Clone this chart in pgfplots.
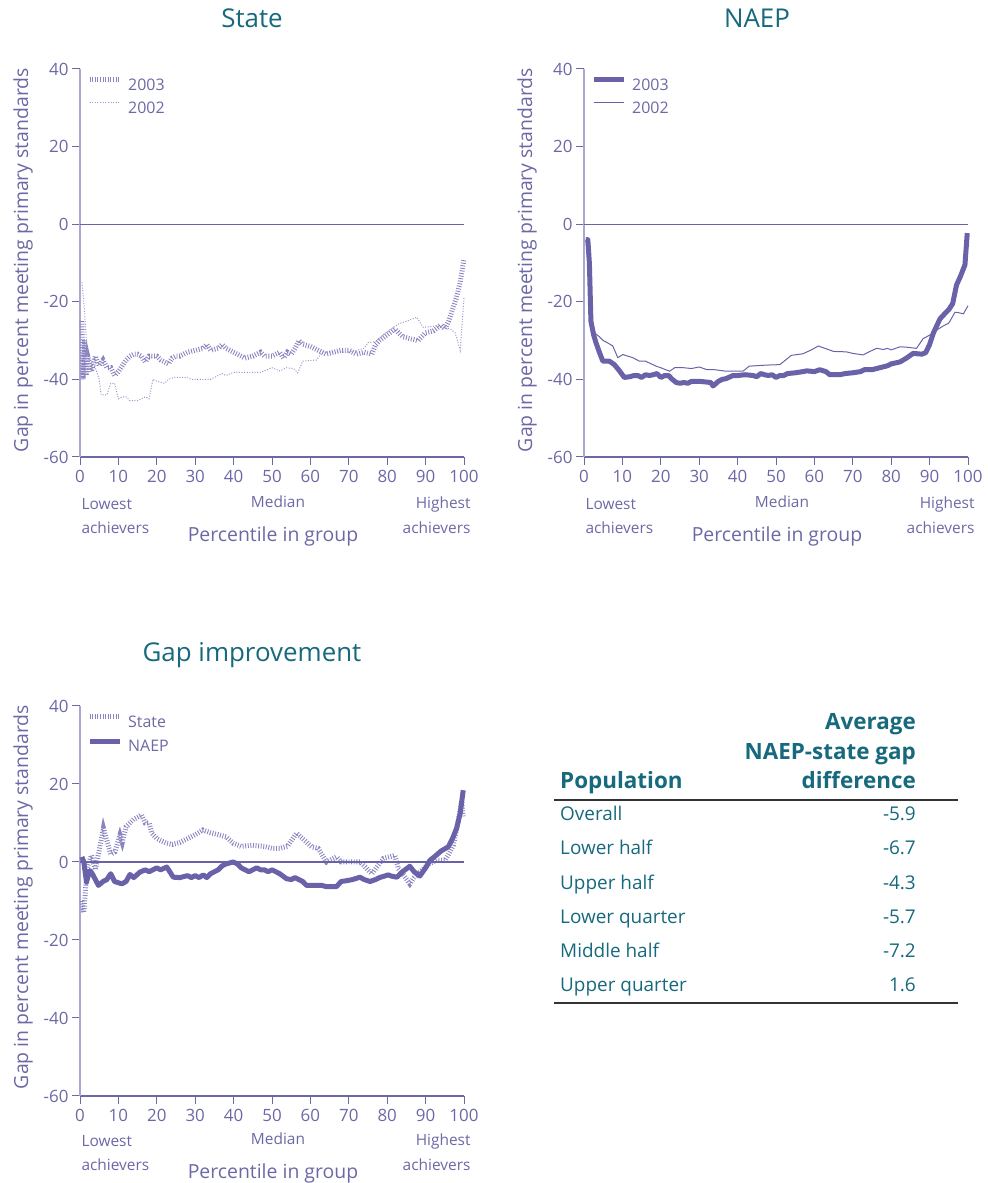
\documentclass[border=0pt]{standalone}
\usepackage{fontspec}
\setmainfont{Open Sans}
\usepackage{pgfplots}
\pgfplotsset{compat=1.18}
\definecolor{tickc}{HTML}{6C68A6}
\definecolor{axc}{HTML}{ABA7D3}
\definecolor{lnc}{HTML}{6A62A8}
\definecolor{hatchc}{HTML}{8A84C0}
\definecolor{dotc}{HTML}{9A95CB}
\definecolor{tealc}{HTML}{17697D}
\pgfplotsset{
  myax/.style={
    scale only axis, width=384bp, height=388bp,
    xmin=0, xmax=100, ymin=-60, ymax=40,
    axis x line*=bottom, axis y line*=left,
    x axis line style={tickc, line width=1.3bp, -},
    y axis line style={axc, line width=2bp, -},
    xtick={0,10,...,100}, ytick={-60,-40,...,40},
    tick align=outside, major tick length=8bp,
    tick style={tickc, line width=1bp},
    ticklabel style={font=\fontsize{17}{19}\selectfont, text=tickc},
    xticklabel style={yshift=-1.5bp},
    /pgf/number format/assume math mode=true,
    clip=false,
    legend style={draw=none, fill=none, at={(axis description cs:0,1)}, anchor=north west,
      inner sep=0pt, nodes={inner sep=0pt},
      xshift=7bp, yshift=-8bp, font=\fontsize{16}{18}\selectfont, text=tickc,
      row sep=10bp, /tikz/every odd column/.append style={column sep=6bp}},
    legend cell align=left,
    legend image code/.code={\draw[##1] (0bp,5.5bp) -- (30bp,5.5bp);},
  },
  hatchline/.style={hatchc, line width=5bp, dash pattern=on 0.9bp off 1.7bp},
  dotline/.style={dotc, line width=1bp, dash pattern=on 1bp off 1.6bp},
  thickline/.style={lnc, line width=5bp, line join=round},
  thinline/.style={lnc, line width=1bp},
}
\begin{document}
\begin{tikzpicture}[x=1bp,y=1bp]
\useasboundingbox (0,0) rectangle (988,1183);
% ---------- titles ----------
\node[text=tealc, font=\fontsize{26}{28}\selectfont] at (252,1165) {State};
\node[text=tealc, font=\fontsize{26}{28}\selectfont] at (757,1165) {NAEP};
\node[text=tealc, font=\fontsize{26}{28}\selectfont] at (252,528) {Gap improvement};

% ---------- State ----------
\begin{axis}[myax, at={(80bp,726bp)}, anchor=south west]
\addplot[hatchline] coordinates {(0.5,-25) (0.8,-40) (1.2,-30) (1.6,-39) (2,-34) (3,-38) (4,-34) (5,-36.5) (6,-35) (7,-37) (8,-37) (9,-39) (10,-38) (11,-36.5) (12,-35) (13,-34) (14,-33.5) (15,-33.5) (16,-34) (17,-35.5) (18,-34) (19,-34) (20,-34) (21,-35) (22,-35.5) (23,-36) (24,-34.5) (25,-34) (26,-34) (28,-33) (30,-32.5) (32,-32) (33,-31) (34,-32.5) (36,-32) (37,-31) (38,-32) (40,-33) (42,-34) (43,-34.5) (45,-34) (47,-33) (48,-34) (50,-34) (52,-33) (53,-34.5) (54,-33) (55,-33.5) (56,-32) (57,-30) (58,-31) (60,-31.5) (62,-32.5) (64,-33.5) (66,-33) (68,-32.5) (70,-32.5) (72,-33.5) (74,-33) (76,-33.5) (77,-31) (78,-30) (80,-28.5) (82,-27) (84,-29) (86,-29.5) (88,-30) (90,-28) (92,-27.5) (94,-26) (95,-27) (96,-25) (97,-22) (98,-19) (99,-15) (100,-9)};
\addlegendentry{2003}
\addplot[dotline] coordinates {(0.5,-15) (1,-20) (2,-35) (3,-35) (4,-37) (5,-40) (5.5,-44) (7,-44) (8,-41) (9,-41) (10,-45) (11,-44.5) (12,-44.5) (13,-45.5) (15,-45.5) (16,-45) (17,-44.5) (18,-45) (19,-40) (20,-40.5) (22,-41) (23,-40) (24.5,-39.5) (28,-39.5) (29,-40) (34,-40) (36,-39) (37,-38.5) (38,-39) (40,-38.2) (47,-38.2) (50,-37) (52,-37.8) (53.8,-37) (55.6,-37.2) (56.7,-38.3) (58,-35.3) (61.6,-35) (63,-33) (66,-33) (70,-33) (74,-32) (75,-30.5) (77,-30.3) (79,-28.5) (81,-27) (83,-25.7) (85,-25) (87.7,-24) (89.4,-26.6) (92.9,-26.2) (96.4,-27) (97.7,-28) (99,-32.5) (100,-19)};
\addlegendentry{2002}
\draw[lnc, line width=1.2bp] (axis cs:0,0) -- (axis cs:100,0);
\end{axis}

% ---------- NAEP ----------
\begin{axis}[myax, at={(584bp,726bp)}, anchor=south west]
\addplot[thickline] coordinates {(0.5,-4) (1,-4) (1.4,-10) (1.8,-25) (2.5,-28.5) (3.1,-30.5) (4,-33) (4.9,-35.3) (6.6,-35.3) (7.9,-36.2) (9,-37.5) (10.5,-39.5) (12,-39.3) (13,-39) (14,-39) (15,-39.5) (16,-38.8) (17,-39) (18,-38.8) (19,-38.5) (20,-39.5) (21,-39) (22,-39) (23,-40) (24,-40.8) (25,-41) (26,-40.8) (27,-41) (28,-40.5) (30,-40.5) (32,-40.7) (33,-40.8) (33.6,-41.7) (35,-40.5) (36,-40) (37,-39.8) (38.8,-39) (40,-39) (42,-38.8) (44,-39) (45,-39.3) (46,-38.5) (47,-38.8) (48,-39) (49,-38.8) (50,-39.5) (51,-39) (52,-39) (53,-38.5) (55,-38.3) (57,-38) (58,-37.8) (60,-38) (61.4,-37.5) (63,-38) (64,-38.8) (66.6,-38.8) (68,-38.5) (70,-38.3) (72,-38) (73,-37.5) (75,-37.5) (77,-37) (79,-36.5) (80,-36) (82.3,-35.5) (84,-34.5) (85.7,-33.3) (88,-33.5) (89,-33.1) (90,-31) (91,-28) (92.7,-24.4) (94,-23) (95,-22) (96,-20.5) (97,-15.7) (98,-13.5) (99.2,-10.5) (99.8,-2.3)};
\addlegendentry{2003}
\addplot[thinline] coordinates {(0.5,-4) (1.2,-12) (2,-27) (3.1,-28.3) (4,-29) (5,-30) (6,-30.5) (7.5,-31.4) (8.8,-34.4) (10.1,-33.6) (12.7,-34.4) (14.4,-35.3) (16,-35.3) (18.8,-36.6) (20,-37) (22.3,-37.9) (23.6,-37) (26,-37) (28,-37.2) (30,-36.8) (32,-37.5) (34,-37.5) (37,-37.9) (41.4,-37.9) (43,-36.6) (46,-36.4) (48,-36.3) (51,-36.2) (52.5,-35) (54,-33.8) (57,-33.4) (59,-32.5) (61,-31.4) (63.6,-32.3) (65,-32.8) (68.3,-32.9) (70,-33.3) (72.7,-33.7) (74,-33) (76.2,-32) (78,-32.3) (79,-32) (80,-32.4) (82.3,-31.6) (84,-31.7) (86.6,-32) (88.3,-29.5) (90,-28.6) (91.5,-27.5) (93.6,-26.2) (95,-25.5) (96.6,-22.7) (97.5,-22.8) (98.8,-23.1) (100,-21)};
\addlegendentry{2002}
\draw[lnc, line width=1.2bp] (axis cs:0,0) -- (axis cs:100,0);
\end{axis}

% ---------- Gap improvement ----------
\begin{axis}[myax, height=390bp, at={(80bp,87bp)}, anchor=south west]
\addplot[hatchline] coordinates {(0.5,-10) (1,-13) (1.5,-6) (2,-1) (3,1.7) (4,-2) (5,3) (6.1,8.7) (7,5.5) (8,2) (9.1,2.6) (10.4,6.9) (11,5) (12,9) (13,10) (14,11) (15,11.5) (16,12.1) (17,10) (18,10) (18.7,7.4) (20,6) (21,5.5) (22.6,4.8) (24,4.5) (26,5) (28,6) (30,7) (32,8.2) (34,7.5) (36,7) (38,6.5) (39.9,4.8) (42,4) (45,4.3) (48,4) (50,3.5) (52,3.5) (54,4) (56.4,7.4) (58,6) (60.3,3.9) (62,3.5) (64.2,0) (66.8,1.3) (68,0) (70,0) (72.9,0) (74,-1) (76,-3) (79,0.9) (82,1.7) (82.9,-1.7) (84,-3) (85.9,-5.6) (87,-4) (88.5,-2.6) (91,-0.4) (93,0.5) (95,0.4) (96,2) (97.2,4.3) (98,8) (99.4,15.6) (99.8,11.7)};
\addlegendentry{State}
\addplot[thickline] coordinates {(0.5,1.3) (1,0) (1.7,-5.2) (2,-4) (2.6,-2.2) (3.2,-3) (4.8,-6) (6,-5) (7,-4.5) (8,-3) (9,-5) (10.9,-5.6) (12,-5) (13,-3.2) (14,-4) (15.6,-2.6) (17,-2) (18,-2.5) (20,-1.5) (21,-2) (22.6,-1.3) (24.3,-3.9) (26,-4) (28,-3.5) (29,-4) (30,-3.5) (31,-4) (32.1,-3.3) (33,-4) (34,-3) (35,-2.5) (36,-2) (37,-1) (38,-0.5) (39.9,0) (41,-0.5) (42,-1.5) (43,-2) (44,-2.5) (45,-2) (46,-1.5) (47,-2) (48,-2) (49,-2.5) (50,-2) (51,-2.5) (52,-3) (53.8,-4.3) (55,-4.5) (56,-4) (57,-4.5) (58,-5) (59,-6) (60.8,-6) (62,-6) (63,-6) (64,-6.3) (66.8,-6.3) (68,-5) (69.4,-4.8) (71,-4.5) (72.9,-3.9) (74,-4.5) (75.5,-5) (77,-4.5) (78,-4) (80.3,-3.3) (81,-3.6) (82.5,-3.9) (84,-2.5) (85.9,-1.1) (87,-2.5) (88.5,-3.6) (90,-1.5) (91.1,0.4) (92.5,1.5) (94,2.8) (95.9,3.9) (97,6) (98.1,8.7) (99,12.5) (99.8,18.4)};
\addlegendentry{NAEP}
\draw[lnc, line width=1.2bp] (axis cs:0,0) -- (axis cs:100,0);
\end{axis}

% ---------- axis annotations ----------
\foreach \dx/\dy in {0/0, 504/0, 0/-637} {
  \begin{scope}[shift={(\dx,\dy)}]
  \node[text=tickc, font=\fontsize{15.5}{17}\selectfont, anchor=west] at (78,679) {Lowest};
  \node[text=tickc, font=\fontsize{15.5}{17}\selectfont, anchor=west] at (78,655) {achievers};
  \node[text=tickc, font=\fontsize{15.5}{17}\selectfont] at (278,681) {Median};
  \node[text=tickc, font=\fontsize{15.5}{17}\selectfont, anchor=east] at (474,679) {Highest};
  \node[text=tickc, font=\fontsize{15.5}{17}\selectfont, anchor=east] at (474,655) {achievers};
  \node[text=tickc, font=\fontsize{19.5}{21}\selectfont] at (273,647) {Percentile in group};
  \end{scope}
}
\node[text=tickc, font=\fontsize{19.5}{21}\selectfont, rotate=90] at (23,923) {Gap in percent meeting primary standards};
\node[text=tickc, font=\fontsize{19.5}{21}\selectfont, rotate=90] at (527,923) {Gap in percent meeting primary standards};
\node[text=tickc, font=\fontsize{19.5}{21}\selectfont, rotate=90] at (23,286) {Gap in percent meeting primary standards};

% ---------- table ----------
\begin{scope}[every node/.style={text=tealc, inner sep=0pt}]
\node[font=\bfseries\fontsize{22.5}{24}\selectfont, anchor=base east] at (916,453) {Average};
\node[font=\bfseries\fontsize{22.5}{24}\selectfont, anchor=base east] at (916,423) {NAEP-state gap};
\node[font=\bfseries\fontsize{22.5}{24}\selectfont, anchor=base east] at (916,394) {difference};
\node[font=\bfseries\fontsize{22.5}{24}\selectfont, anchor=base west] at (560,394) {Population};
\draw[black!80, line width=1.4bp] (554,383) -- (958,383);
\foreach \y/\lab/\val in {362/Overall/-5.9, 328/Lower half/-6.7, 293/Upper half/-4.3, 259/Lower quarter/-5.7, 225/Middle half/-7.2, 191/Upper quarter/1.6} {
  \node[font=\fontsize{19}{21}\selectfont, anchor=base west] at (560,\y) {\lab};
  \node[font=\fontsize{19}{21}\selectfont, anchor=base east] at (916,\y) {\val};
}
\draw[black!80, line width=1.4bp] (554,180) -- (958,180);
\end{scope}
\end{tikzpicture}
\end{document}
